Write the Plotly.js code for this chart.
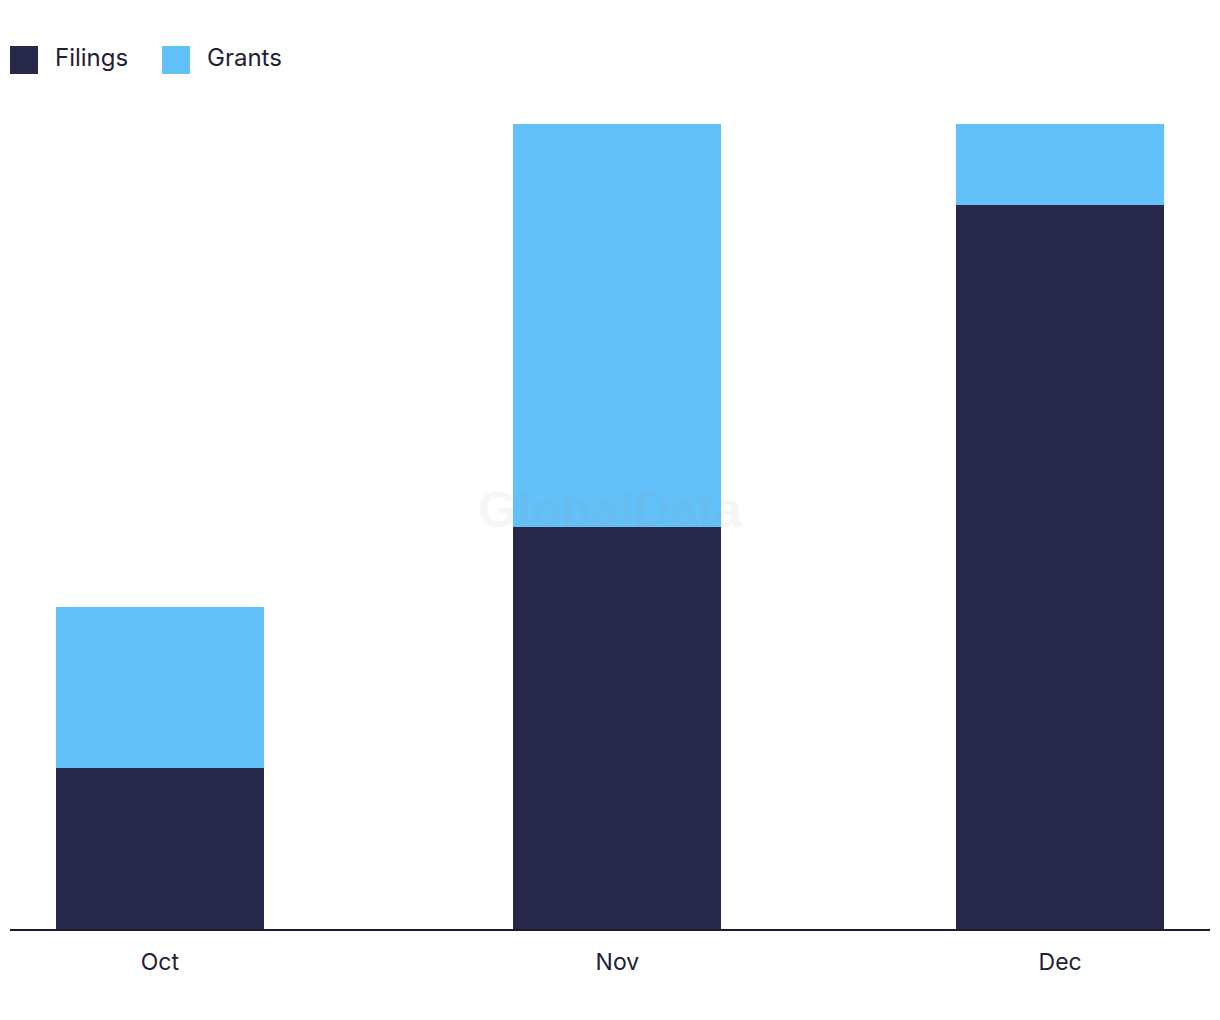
<!DOCTYPE html>
<html>
<head>
<meta charset="utf-8">
<script src="https://cdn.plot.ly/plotly-3.0.1.min.js"></script>
<style>html,body{margin:0;padding:0;background:#fff;}#chart{width:1220px;height:1020px;}</style>
</head>
<body>
<div id="chart"></div>
<script>
const months = ['2023-10-01', '2023-11-01', '2023-12-01'];
const tickLabels = ['Oct', 'Nov', 'Dec'];
const filings = [2, 5, 9];
const grants = [2, 5, 1];
const seriesNames = ['Filings', 'Grants'];
const colors = ['#27284a', '#62c1f9'];

const textColor = '#1f2035';
const fontFam = 'Inter, "Noto Sans", sans-serif';
const barWidth = 14.08 * 86400000;

const traces = [
  {type: 'bar', x: months, y: filings, name: seriesNames[0], marker: {color: colors[0]}, width: barWidth, hoverinfo: 'skip', showlegend: false},
  {type: 'bar', x: months, y: grants, name: seriesNames[1], marker: {color: colors[1]}, width: barWidth, hoverinfo: 'skip', showlegend: false}
];

const legendX = [0, 152];
const shapes = seriesNames.map((n, i) => ({
  type: 'rect', xref: 'paper', yref: 'paper',
  xsizemode: 'pixel', ysizemode: 'pixel',
  xanchor: 0, yanchor: 1,
  x0: legendX[i], x1: legendX[i] + 28,
  y0: 50, y1: 78,
  fillcolor: colors[i], line: {width: 0}
}));
const annotations = seriesNames.map((n, i) => ({
  text: n, xref: 'paper', yref: 'paper', x: 0, y: 1,
  xanchor: 'left', yanchor: 'middle', xshift: legendX[i] + 43, yshift: 67,
  showarrow: false, font: {family: fontFam, size: 24, color: textColor}
}));
annotations.push({
  text: '<b>GlobalData</b>', xref: 'paper', yref: 'paper', x: 0.5, y: 0.52,
  xanchor: 'center', yanchor: 'middle', showarrow: false,
  font: {family: '"Liberation Sans", Arial, sans-serif', size: 50, color: 'rgba(150,150,150,0.09)'}
});

const layout = {
  width: 1220, height: 1020,
  margin: {l: 10, r: 10, t: 124, b: 91},
  barmode: 'stack',
  paper_bgcolor: '#ffffff', plot_bgcolor: '#ffffff',
  showlegend: false,
  xaxis: {
    type: 'date',
    range: ['2023-09-20 20:24', '2023-12-11 03:36'],
    tickvals: months, ticktext: tickLabels,
    showgrid: false, zeroline: false,
    showline: true, linecolor: '#1b1b2e', linewidth: 2,
    ticks: '', ticklabelstandoff: 11,
    tickfont: {family: fontFam, size: 23, color: textColor}
  },
  yaxis: {
    range: [0, 10], visible: false, showgrid: false, zeroline: false, fixedrange: true
  },
  shapes: shapes,
  annotations: annotations
};

Plotly.newPlot('chart', traces, layout, {displayModeBar: false, staticPlot: true});
</script>
</body>
</html>
